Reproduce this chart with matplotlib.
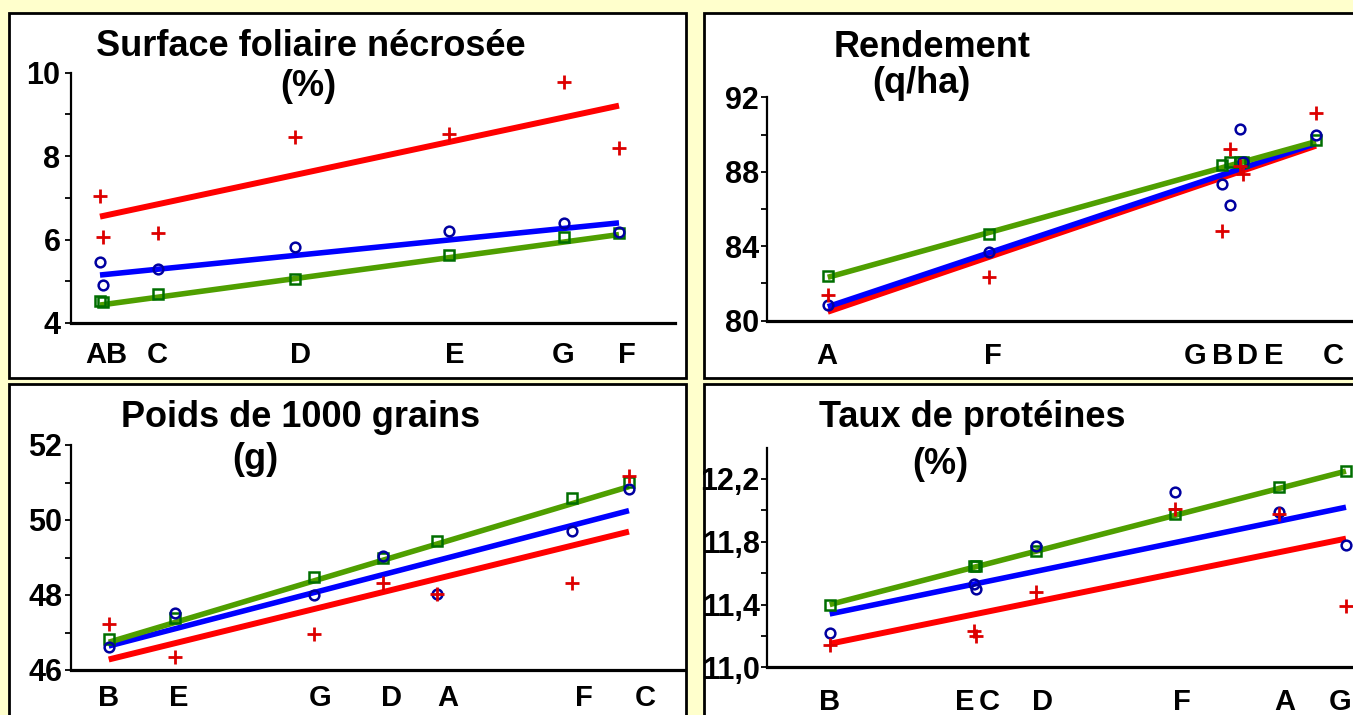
import matplotlib
matplotlib.use("Agg")
import matplotlib.pyplot as plt
from matplotlib.patches import Rectangle
from matplotlib.ticker import FixedLocator

plt.rcParams['font.family'] = ['Liberation Sans', 'DejaVu Sans']
plt.rcParams['font.weight'] = 'bold'

W, H = 1353, 715
BG = '#FFFFCC'
RED_L, BLUE_L, GREEN_L = '#FF0000', '#0000FF', '#4F9F00'
RED_M, BLUE_M, GREEN_M = '#DD0000', '#0000A0', '#006E00'

# --- Surface foliaire nécrosée (%) ---
sfn_var = ['A', 'B', 'C', 'D', 'E', 'G', 'F']
sfn_x = [2.9, 3.2, 8.7, 22.4, 37.8, 49.3, 54.8]
sfn_red = [7.05, 6.07, 6.15, 8.47, 8.53, 9.78, 8.19]
sfn_blue = [5.46, 4.90, 5.29, 5.83, 6.21, 6.40, 6.18]
sfn_green = [4.53, 4.50, 4.70, 5.06, 5.63, 6.05, 6.15]
sfn_fit = {'red': (6.55, 9.21), 'blue': (5.15, 6.40), 'green': (4.43, 6.12)}
sfn_lab_x = [2.45, 4.55, 8.6, 23.0, 38.4, 49.2, 55.6]

# --- Rendement (q/ha) ---
rdt_var = ['A', 'F', 'G', 'B', 'D', 'E', 'C']
rdt_x = [6.1, 22.2, 45.5, 46.3, 47.3, 47.6, 54.9]
rdt_red = [81.38, 82.37, 84.82, 89.23, 88.3, 87.87, 91.15]
rdt_blue = [80.83, 83.71, 87.35, 86.2, 90.29, 88.5, 89.98]
rdt_green = [82.4, 84.66, 88.35, 88.5, 88.55, 88.5, 89.7]
rdt_fit = {'red': (80.48, 89.40), 'blue': (80.75, 89.52), 'green': (82.33, 89.62)}
rdt_lab_x = [6.0, 22.6, 42.8, 45.6, 48.1, 50.7, 56.6]

# --- Poids de 1000 grains (g) ---
pmg_var = ['B', 'E', 'G', 'D', 'A', 'F', 'C']
pmg_x = [3.8, 10.4, 24.3, 31.2, 36.6, 50.1, 55.8]
pmg_red = [47.24, 46.34, 46.96, 48.31, 48.02, 48.33, 51.17]
pmg_blue = [46.62, 47.53, 48.01, 49.04, 48.02, 49.71, 50.82]
pmg_green = [46.83, 47.40, 48.47, 49.00, 49.44, 50.60, 51.02]
pmg_fit = {'red': (46.28, 49.69), 'blue': (46.64, 50.25), 'green': (46.74, 50.89)}
pmg_lab_x = [3.8, 10.8, 24.9, 32.1, 37.7, 51.3, 57.4]

# --- Taux de protéines (%) ---
prot_var = ['B', 'E', 'C', 'D', 'F', 'A', 'G']
prot_x = [6.3, 20.7, 20.9, 26.9, 40.8, 51.2, 57.9]
prot_red = [11.14, 11.23, 11.20, 11.48, 12.01, 11.98, 11.39]
prot_blue = [11.22, 11.53, 11.50, 11.77, 12.12, 11.99, 11.78]
prot_green = [11.395, 11.645, 11.645, 11.74, 11.98, 12.15, 12.25]
prot_fit = {'red': (11.15, 11.82), 'blue': (11.34, 12.02), 'green': (11.40, 12.25)}
prot_lab_x = [6.3, 19.8, 22.2, 27.6, 41.5, 51.8, 57.35]


fig = plt.figure(figsize=(W / 100, H / 100), dpi=100, facecolor=BG)


def fx(px):
    return px / W


def fy(py):
    return 1 - py / H


def box(x0, y0, x1, y1):
    fig.patches.append(Rectangle((fx(x0), fy(y1)), fx(x1) - fx(x0), fy(y0) - fy(y1),
                                 transform=fig.transFigure, facecolor='white',
                                 edgecolor='black', lw=2, zorder=-5))


def panel(rect, xmax, x, red, blue, green, fit, ylim, major, minor, fmt,
          var, lab_x, ypad, xpad):
    l, t, r, b = rect
    ax = fig.add_axes([fx(l), fy(b), fx(r) - fx(l), fy(t) - fy(b)])
    ax.patch.set_alpha(0)
    ax.set_xlim(0, xmax)
    ax.set_ylim(*ylim)
    xl = [min(x), max(x)]
    ax.plot(xl, fit['red'], color=RED_L, lw=4.3, solid_capstyle='butt', zorder=2)
    ax.plot(xl, fit['blue'], color=BLUE_L, lw=4, solid_capstyle='butt', zorder=2)
    ax.plot(xl, fit['green'], color=GREEN_L, lw=4, solid_capstyle='butt', zorder=2)
    ax.plot(x, green, 's', ms=6.8, mfc='none', mec=GREEN_M, mew=1.8, zorder=3)
    ax.plot(x, blue, 'o', ms=7, mfc='none', mec=BLUE_M, mew=1.8, zorder=3)
    ax.plot(x, red, '+', ms=9.5, mec=RED_M, mew=2, zorder=4)
    for s in ('top', 'right'):
        ax.spines[s].set_visible(False)
    ax.spines['left'].set_linewidth(1.6)
    ax.spines['bottom'].set_linewidth(2.3)
    ax.yaxis.set_major_locator(FixedLocator(major))
    ax.yaxis.set_minor_locator(FixedLocator(minor))
    ax.set_yticklabels([fmt(v) for v in major])
    ax.tick_params(axis='y', which='both', direction='out', length=4, width=1.3,
                   labelsize=22, pad=ypad)
    ax.set_xticks(lab_x, var)
    ax.tick_params(axis='x', length=0, labelsize=21, pad=xpad)
    return ax


def title(cx, base, txt):
    fig.text(fx(cx), fy(base), txt, ha='center', va='baseline', fontsize=26,
             fontweight='bold')


box(9, 13, 686, 378)
box(704, 13, 1375, 378)
box(9, 384, 686, 730)
box(704, 384, 1375, 730)

fmt_int = lambda v: f'{v:g}'
fmt_comma = lambda v: f'{v:.1f}'.replace('.', ',')

panel((71, 72.7, 675, 323), 60.4, sfn_x, sfn_red, sfn_blue, sfn_green, sfn_fit,
      (4, 10), [4, 6, 8, 10], [5, 7, 9], fmt_int, sfn_var, sfn_lab_x, 3.5, 13)
panel((766.7, 97.3, 1370, 320.7), 60.3, rdt_x, rdt_red, rdt_blue, rdt_green, rdt_fit,
      (80, 92), [80, 84, 88, 92], [82, 86, 90], fmt_int, rdt_var, rdt_lab_x, 1.5, 15)
panel((70.7, 445, 684, 670), 61.3, pmg_x, pmg_red, pmg_blue, pmg_green, pmg_fit,
      (46, 52), [46, 48, 50, 52], [47, 49, 51], fmt_int, pmg_var, pmg_lab_x, 2, 10)
panel((766.7, 447.6, 1370, 667.3), 60.3, prot_x, prot_red, prot_blue, prot_green, prot_fit,
      (11.0, 12.4), [11.0, 11.4, 11.8, 12.2], [11.2, 11.6, 12.0], fmt_comma,
      prot_var, prot_lab_x, 1, 15)

title(311, 56.5, 'Surface foliaire nécrosée')
title(308, 95.5, '(%)')
title(932, 57, 'Rendement')
title(921, 93, '(q/ha)')
title(301, 427, 'Poids de 1000 grains')
title(255, 469, '(g)')
title(972, 427, 'Taux de protéines')
title(940, 474, '(%)')

fig.savefig('out.png', dpi=100, facecolor=BG)
